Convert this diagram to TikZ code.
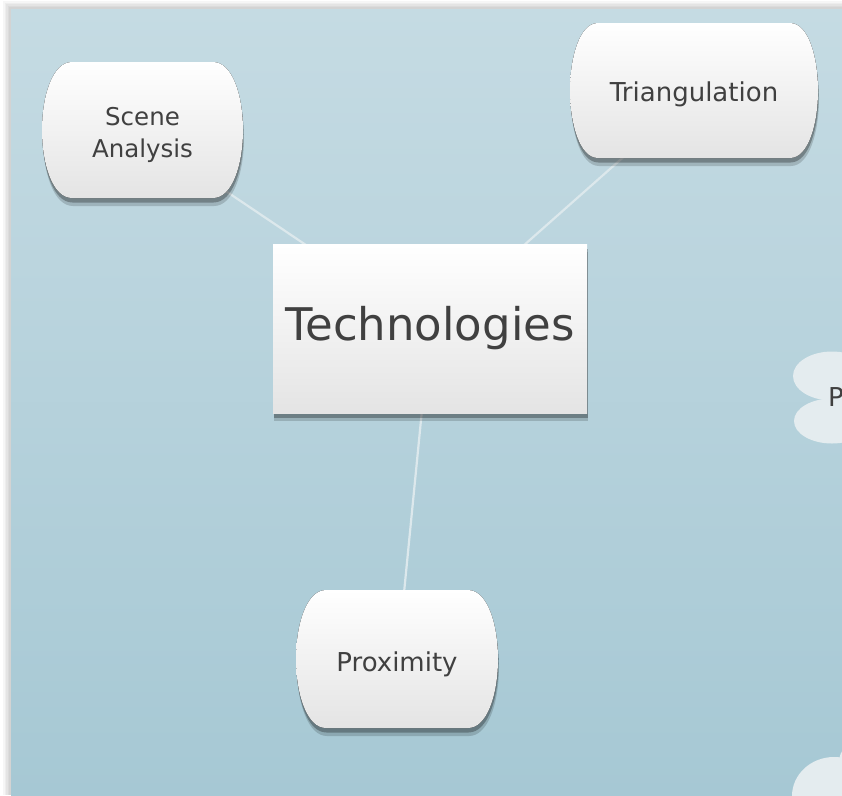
\documentclass[tikz,border=0pt]{standalone}
\usepackage{fontspec}
\setmainfont{DejaVu Sans}
\usetikzlibrary{shadows}
\pgfdeclarelayer{bgl}
\pgfdeclarelayer{edges}
\pgfdeclarelayer{shapes}
\pgfsetlayers{bgl,edges,shapes,main}
\definecolor{panelTop}{HTML}{C5DBE3}
\definecolor{panelBot}{HTML}{A6C8D4}
\definecolor{edgeC}{HTML}{DCE8EC}
\definecolor{txt}{HTML}{404040}
\definecolor{cloudC}{HTML}{E4ECEF}
\definecolor{nodeBot}{HTML}{E4E4E4}
\newcommand\barrelpath[5]{%
  (#1-#3+#5,#2-#4) -- (#1+#3-#5,#2-#4)
  .. controls (#1+#3-0.35*#5,#2-#4) and (#1+#3,#2-0.5*#4) .. (#1+#3,#2)
  .. controls (#1+#3,#2+0.5*#4) and (#1+#3-0.35*#5,#2+#4) .. (#1+#3-#5,#2+#4)
  -- (#1-#3+#5,#2+#4)
  .. controls (#1-#3+0.35*#5,#2+#4) and (#1-#3,#2+0.5*#4) .. (#1-#3,#2)
  .. controls (#1-#3,#2-0.5*#4) and (#1-#3+0.35*#5,#2-#4) .. cycle}
\newcommand\barrelbg[5]{%
  \begin{pgfonlayer}{shapes}
    \fill[black, opacity=.16, shift={(1,8)}] \barrelpath{#1}{#2}{#3}{#4}{#5};
    \fill[black, opacity=.28, shift={(0.5,4.5)}] \barrelpath{#1}{#2}{#3}{#4}{#5};
    \fill[top color=white, bottom color=nodeBot] \barrelpath{#1}{#2}{#3}{#4}{#5};
  \end{pgfonlayer}}
\tikzset{
  boxshadow/.style={
    drop shadow={shadow xshift=1pt, shadow yshift=-8pt, opacity=.16, fill=black},
    drop shadow={shadow xshift=0.5pt, shadow yshift=-4.5pt, opacity=.28, fill=black}},
  barreltext/.style={draw=none, text=txt,
    font=\fontsize{26}{32}\selectfont, align=center, inner sep=0pt},
  techbox/.style={rectangle, top color=white, bottom color=nodeBot, draw=none,
    text=txt, font=\fontsize{45}{52}\selectfont, inner sep=0pt, boxshadow},
  link/.style={draw=edgeC, line width=2.2pt},
  cloudfill/.style={fill=cloudC}
}
\begin{document}
\begin{tikzpicture}[x=1pt,y=-1pt]
\clip (0,0) rectangle (842,795);
\begin{pgfonlayer}{bgl}
  \fill[white] (0,0) rectangle (842,795);
  \foreach \i in {1,...,5}{
    \fill[black, opacity=0.035] (11-1.6*\i,9-1.6*\i) rectangle (842,795);
  }
  \fill[top color=panelTop, bottom color=panelBot] (11,9) rectangle (842,795);
\end{pgfonlayer}

\barrelbg{142.5}{130}{100.5}{68}{30}
\node[barreltext, font=\fontsize{24.5}{32}\selectfont, minimum width=201pt, minimum height=136pt] (scene) at (142.5,135) {Scene\\Analysis};
\barrelbg{694}{90.5}{124}{67.5}{28}
\node[barreltext, minimum width=248pt, minimum height=135pt] (tri) at (694,94.5) {Triangulation};
\node[techbox, minimum width=314pt, minimum height=169pt] (tech) at (430,328.5) {\raisebox{-4pt}{Technologies}};
\barrelbg{397}{659}{101}{69}{30}
\node[barreltext, minimum width=202pt, minimum height=138pt] (prox) at (397,664) {Proximity};

\begin{pgfonlayer}{edges}
  \draw[link] (scene.center) -- (tech.center);
  \draw[link] (tri.center) -- (tech.center);
  \draw[link] (tech.center) -- (prox.center);
\end{pgfonlayer}

\fill[cloudfill] (832,376) ellipse [x radius=39, y radius=24.5];
\fill[cloudfill] (832,421) ellipse [x radius=38, y radius=22.5];
\node[text=txt, font=\fontsize{26}{32}\selectfont, anchor=base west, inner sep=0pt] (pcloud) at (828,406) {P};

\fill[cloudfill] (834,796) ellipse [x radius=42, y radius=39];
\fill[cloudfill] (860,762) circle [radius=21];
\end{tikzpicture}
\end{document}
